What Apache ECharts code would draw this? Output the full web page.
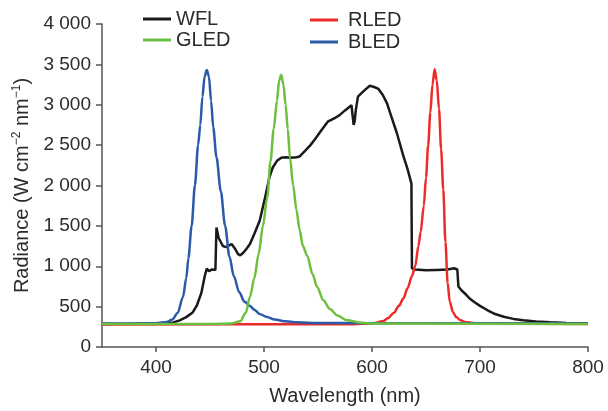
<!DOCTYPE html>
<html>
<head>
<meta charset="utf-8">
<script src="https://cdn.jsdelivr.net/npm/echarts@6/dist/echarts.min.js"></script>
<style>
html,body{margin:0;padding:0;background:#fff;}
#chart{width:608px;height:411px;}
</style>
</head>
<body>
<div id="chart"></div>
<script>
// ---- data (wavelength nm / radiance) ----
const xTicks = [400, 500, 600, 700, 800];
const yTicks = [0, 500, 1000, 1500, 2000, 2500, 3000, 3500, 4000];
const yTickLabels = ['0', '500', '1 000', '1 500', '2 000', '2 500', '3 000', '3 500', '4 000'];

const wflNm  = [350,380,400,410,416,422,428,434,438,442,445,447,449,452,455,456,458,460,462,465,468,470,473,476,478,481,484,487,491,496,501,505,508,512,516,520,525,530,533,538,543,547,553,559,565,570,575,581,582,583,584,585,587,590,594,598,602,606,610,614,618,623,629,633,636.5,637,640,650,660,670,676,679,680,683,687,691,695,700,707,714,722,731,740,752,765,780,800];
const wflVal = [285,287,290,295,305,330,370,428,520,670,870,970,940,960,955,1480,1350,1300,1250,1236,1260,1276,1220,1150,1135,1170,1220,1276,1400,1563,1850,2100,2220,2306,2345,2350,2345,2350,2360,2428,2500,2570,2680,2790,2830,2872,2930,2994,3000,2750,2800,2933,3100,3140,3190,3236,3220,3196,3120,3014,2850,2650,2367,2200,2024,973,960,950,955,960,975,960,750,700,650,594,555,509,455,408,375,348,330,315,305,298,292];

const gledNm  = [350,450,470,478,483,487,491,495,499,503,506,509,512,514,516,518,520,522,524,527,530,533,536,540,545,549,555,561,568,577,590,600,800];
const gledVal = [285,286,292,318,420,620,850,1150,1500,1850,2300,2700,3050,3300,3370,3250,3000,2700,2350,2000,1700,1450,1250,1130,900,750,580,470,390,330,300,290,286];

const rledNm  = [350,580,600,610,615,620,625,629,633,637,640,643,645,648,650,652,654,656,658,660,662,664,666,668,670,672,675,678,682,686,695,720,800];
const rledVal = [280,282,292,318,358,420,510,600,730,880,1000,1250,1420,1750,2100,2500,2900,3250,3440,3300,2950,2450,1950,1300,800,560,430,370,330,310,295,288,284];

const bledNm  = [350,380,400,410,415,420,425,428,430,433,436,439,441,443,445,447,449,451,453,456,460,464,468,472,477,482,487,491,496,502,510,520,530,550,600,800];
const bledVal = [292,292,295,310,340,420,620,850,1100,1500,2000,2500,2750,3100,3350,3430,3350,3050,2720,2350,1930,1500,1120,880,680,560,509,460,410,375,340,318,305,298,294,292];

function pairs(xs, ys) { return xs.map((x, i) => [x, ys[i]]); }

const txt = '#2b2b2b';
const ff = '"Liberation Sans", Arial, Helvetica, sans-serif';

const chart = echarts.init(document.getElementById('chart'), null, {renderer: 'canvas'});
chart.setOption({
  animation: false,
  backgroundColor: '#fff',
  textStyle: {fontFamily: ff},
  grid: {left: 102, right: 20, top: 24, bottom: 54, containLabel: false},
  legend: [
    {
      data: ['WFL', 'GLED'], orient: 'vertical', left: 138, top: 4,
      itemWidth: 28, itemHeight: 3, itemGap: 1, icon: 'rect',
      textStyle: {fontSize: 20, color: txt, fontFamily: ff, lineHeight: 20, padding: [0, 0, 0, 0]}
    },
    {
      data: ['RLED', 'BLED'], orient: 'vertical', left: 305, top: 5,
      itemWidth: 28, itemHeight: 3, itemGap: 2, icon: 'rect',
      textStyle: {fontSize: 20, color: txt, fontFamily: ff, lineHeight: 20, padding: [0, 0, 0, 5]}
    }
  ],
  xAxis: {
    type: 'value', min: 350, max: 800,
    name: 'Wavelength (nm)', nameLocation: 'middle', nameGap: 39,
    nameTextStyle: {fontSize: 20, color: txt, fontFamily: ff},
    axisLine: {show: true, lineStyle: {color: '#555', width: 1.5}},
    axisTick: {show: true, inside: false, length: 5, customValues: xTicks, lineStyle: {color: '#555', width: 1.5}},
    axisLabel: {customValues: xTicks, fontSize: 19, color: txt, margin: 11, fontFamily: ff},
    splitLine: {show: false}
  },
  yAxis: {
    type: 'value', min: 0, max: 4000, interval: 500,
    name: 'Radiance (W cm{sup|\u22122} nm{sup|\u22121})', nameLocation: 'middle', nameGap: 69,
    nameTextStyle: {fontSize: 20, color: txt, fontFamily: ff,
      rich: {sup: {fontSize: 12, color: txt, fontFamily: ff, padding: [0, 0, 10, 0]}}},
    axisLine: {show: true, lineStyle: {color: '#555', width: 1.5}},
    axisTick: {show: true, inside: false, length: 6, lineStyle: {color: '#555', width: 1.5}},
    axisLabel: {fontSize: 19, color: txt, margin: 11, fontFamily: ff,
      formatter: v => { const i = yTicks.indexOf(v); return i >= 0 ? yTickLabels[i] : ''; }},
    splitLine: {show: false}
  },
  series: [
    {name: 'WFL', type: 'line', data: pairs(wflNm, wflVal), showSymbol: false, symbol: 'none',
     color: '#1a1a1a', lineStyle: {color: '#1a1a1a', width: 2.5}, z: 2},
    {name: 'RLED', type: 'line', data: pairs(rledNm, rledVal), showSymbol: false, symbol: 'none',
     smooth: 0.3, smoothMonotone: 'x',
     color: '#ee2b2b', lineStyle: {color: '#ee2b2b', width: 2.5}, z: 3},
    {name: 'BLED', type: 'line', data: pairs(bledNm, bledVal), showSymbol: false, symbol: 'none',
     smooth: 0.3, smoothMonotone: 'x',
     color: '#2a5aa8', lineStyle: {color: '#2a5aa8', width: 2.5}, z: 4},
    {name: 'GLED', type: 'line', data: pairs(gledNm, gledVal), showSymbol: false, symbol: 'none',
     smooth: 0.3, smoothMonotone: 'x',
     color: '#6cbf3f', lineStyle: {color: '#6cbf3f', width: 2.5}, z: 5}
  ]
});
</script>
</body>
</html>
